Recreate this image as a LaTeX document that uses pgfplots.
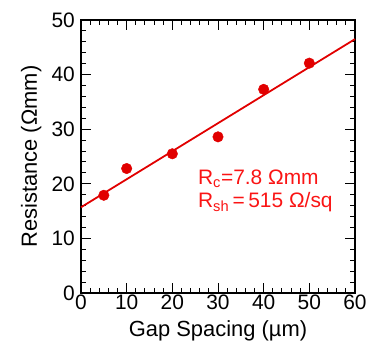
\documentclass[border=0pt]{standalone}
\usepackage{pgfplots}
\pgfplotsset{compat=1.18}
\usepackage{fontspec}
\setmainfont{Liberation Sans}
\definecolor{ptred}{RGB}{225,0,0}
\definecolor{txtred}{RGB}{250,20,20}
\begin{document}
\fontsize{21}{23}\selectfont
\begin{tikzpicture}
\begin{axis}[
  name=ax,
  scale only axis,
  width=274bp, height=273bp,
  xmin=0, xmax=60, ymin=0, ymax=50,
  xtick={0,10,...,60}, ytick={0,10,...,50},
  minor x tick num=4, minor y tick num=4,
  tick align=inside,
  major tick length=10bp, minor tick length=5bp,
  axis line style={line width=1.3pt},
  every tick/.style={black, line width=1pt},
  tick label style={font=\fontsize{21}{23}\selectfont},
  xticklabel style={inner sep=2bp},
  yticklabel style={inner sep=2bp, xshift=-4bp},
  label style={font=\fontsize{22}{24}\selectfont},
  /pgf/number format/assume math mode=true,
  xlabel={Gap Spacing (µm)},
  ylabel={Resistance (Ωmm)},
  xlabel style={at={(axis description cs:0.5,-0.161)}, anchor=base},
  ylabel style={at={(axis description cs:-0.161,0.5)}, anchor=base},
  clip=false,
]
\addplot[ptred, line width=1.8pt, no marks] coordinates {(0,15.7) (60,46.5)};
\addplot[only marks, mark=*, mark size=5.3pt, color=ptred] coordinates {
(5,17.9) (10,22.8) (20,25.5) (30,28.6) (40,37.3) (50,42.1)
};
\node[anchor=base west, text=txtred, font=\fontsize{21}{23}\selectfont, inner sep=0pt] at (axis cs:25.6,19.8) {R\textsubscript{c}=7.8 Ωmm};
\node[anchor=base west, text=txtred, font=\fontsize{21}{23}\selectfont, inner sep=0pt] at (axis cs:25.6,15.6) {R\textsubscript{sh}\,=\,515 Ω/sq};
\end{axis}
\pgfresetboundingbox
\path ([shift={(-81bp,-49bp)}]ax.south west) rectangle ([shift={(290bp,293bp)}]ax.south west);
\end{tikzpicture}
\end{document}
